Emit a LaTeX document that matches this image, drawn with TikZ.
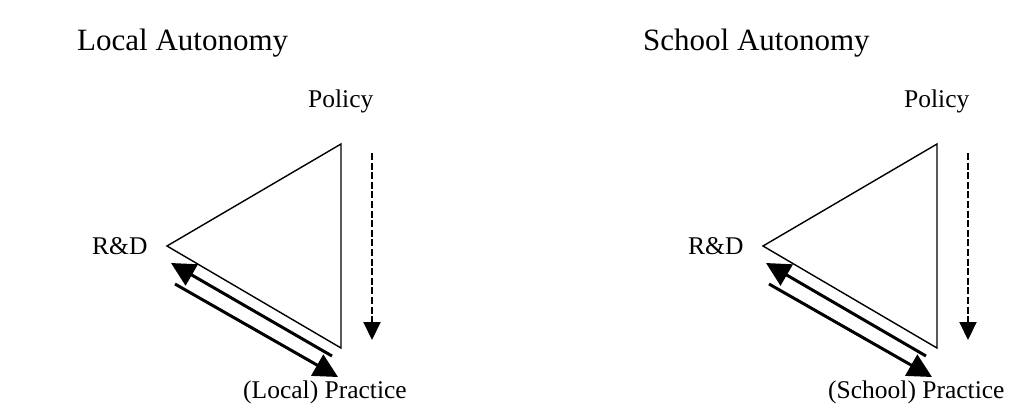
\documentclass[tikz,border=0pt]{standalone}
\usepackage{fontspec}
\setmainfont{Liberation Serif}
\usetikzlibrary{arrows.meta}
\begin{document}
\begin{tikzpicture}[x=1pt,y=-1pt,
  titletext/.style={anchor=base west,inner sep=0pt,font=\fontsize{31}{36}\selectfont},
  labeltext/.style={anchor=base west,inner sep=0pt,font=\fontsize{25.5}{30}\selectfont},
  tri/.style={line width=1.4pt,line join=miter},
  flow/.style={line width=3pt,-{Triangle[length=24pt,width=24pt]}},
  policyflow/.style={line width=2pt,dash pattern=on 7pt off 2.6pt,-{Triangle[length=18pt,width=17pt]}}]
\useasboundingbox (0,0) rectangle (1010,410);
% ---- left diagram ----
\node[titletext] (lt) at (77,50) {Local Autonomy};
\node[labeltext] (lp) at (308,107) {Policy};
\node[labeltext] (lr) at (92,254) {R\&D};
\node[labeltext] (lpr) at (243,398) {(Local) Practice};
\coordinate (la) at (341,144);
\coordinate (lb) at (167,246);
\coordinate (lc) at (341,348);
\draw[tri] (la) -- (lb) -- (lc) -- cycle;
\coordinate (lu1) at (332,356);
\coordinate (lu2) at (171,263);
\coordinate (ld1) at (175,284);
\coordinate (ld2) at (338,377);
\draw[flow] (lu1) -- (lu2);
\draw[flow] (ld1) -- (ld2);
\coordinate (lq1) at (372,153);
\coordinate (lq2) at (372,340);
\draw[policyflow] (lq1) -- (lq2);
% ---- right diagram ----
\node[titletext] (rt) at (643,50) {School Autonomy};
\node[labeltext] (rp) at (904,107) {Policy};
\node[labeltext] (rr) at (688,254) {R\&D};
\node[labeltext] (rpr) at (828,398) {(School) Practice};
\coordinate (ra) at (937,144);
\coordinate (rb) at (763,246);
\coordinate (rc) at (937,348);
\draw[tri] (ra) -- (rb) -- (rc) -- cycle;
\coordinate (ru1) at (926,356);
\coordinate (ru2) at (766,263);
\coordinate (rd1) at (769,284);
\coordinate (rd2) at (932,377);
\draw[flow] (ru1) -- (ru2);
\draw[flow] (rd1) -- (rd2);
\coordinate (rq1) at (968,153);
\coordinate (rq2) at (968,340);
\draw[policyflow] (rq1) -- (rq2);
\end{tikzpicture}
\end{document}
